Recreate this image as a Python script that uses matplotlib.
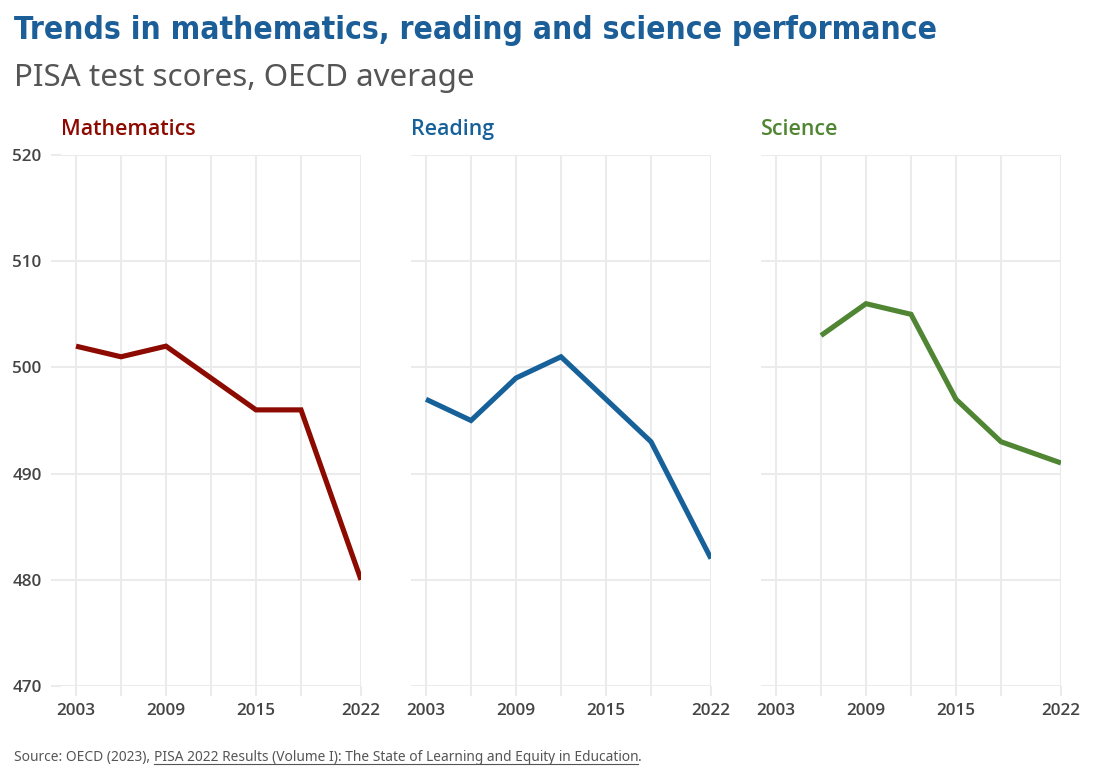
import matplotlib.pyplot as plt
from matplotlib.lines import Line2D
import numpy as np

# PISA OECD averages
years = [2003, 2006, 2009, 2012, 2015, 2018, 2022]
math_scores = [502, 501, 502, 499, 496, 496, 480]
reading_scores = [497, 495, 499, 501, 497, 493, 482]
science_scores = [np.nan, 503, 506, 505, 497, 493, 491]

subjects = ['Mathematics', 'Reading', 'Science']
colors = ['#8c0a00', '#17619a', '#4f8533']
y_ticks = [470, 480, 490, 500, 510, 520]
x_labelled = [2003, 2009, 2015, 2022]

W, H = 1115, 770
grid_col = '#ebebeb'
plt.rcParams['font.family'] = ['Noto Sans', 'DejaVu Sans']
bold_fam = ['Open Sans', 'Noto Sans', 'DejaVu Sans']

fig = plt.figure(figsize=(W / 100, H / 100), dpi=100)


def px(x, y):
    return x / W, 1 - y / H


lefts = [61, 411, 761]
for i, (name, col, vals) in enumerate(zip(subjects, colors, [math_scores, reading_scores, science_scores])):
    ax = fig.add_axes([lefts[i] / W, 1 - 686 / H, 300 / W, (686 - 155) / H])
    ax.plot(years, vals, color=col, lw=3.7, solid_joinstyle='miter', solid_capstyle='butt', zorder=3)
    ax.set_xlim(2002, 2022)
    ax.set_ylim(470, 520)
    ax.set_xticks(years)
    ax.set_xticklabels([str(y) if y in x_labelled else '' for y in years])
    ax.set_yticks(y_ticks)
    ax.grid(True, color=grid_col, lw=1.5, zorder=0)
    for s in ax.spines.values():
        s.set_visible(False)
    ax.tick_params(axis='x', length=7, width=1.5, color=grid_col, pad=5,
                   labelsize=12.3, labelcolor='#444444')
    if i == 0:
        ax.tick_params(axis='y', length=7, width=1.5, color=grid_col, pad=7,
                       labelsize=12.3, labelcolor='#444444')
    else:
        ax.tick_params(axis='y', length=0, labelleft=False)
    for lab in ax.get_xticklabels() + ax.get_yticklabels():
        lab.set_family(bold_fam)
        lab.set_fontweight('semibold')
    fig.text(*px(lefts[i], 135), name, color=col, fontsize=15.4, family=bold_fam,
             fontweight='semibold', va='baseline')

# headings
title = fig.text(*px(14, 39), 'Trends in mathematics, reading and science performance',
                 family=['Liberation Sans Narrow', 'DejaVu Sans'], fontstretch='condensed',
                 fontweight='bold', fontsize=30, color='#1b5e98', va='baseline')
fig.canvas.draw()
# shrink to the width the title takes in the original
tw = title.get_window_extent().width
title.set_fontsize(30 * 921 / tw)

fig.text(*px(14, 86), 'PISA test scores, OECD average', fontsize=22.5, color='#555555', va='baseline')

# source line with underlined report title
src1 = fig.text(*px(14, 761), 'Source: OECD (2023), ', fontsize=9.9, color='#555555', va='baseline')
fig.canvas.draw()
bb = src1.get_window_extent()
src2 = fig.text(bb.x1 / W, 1 - 761 / H,
                'PISA 2022 Results (Volume I): The State of Learning and Equity in Education',
                fontsize=9.9, color='#555555', va='baseline')
fig.canvas.draw()
bb2 = src2.get_window_extent()
fig.text(bb2.x1 / W, 1 - 761 / H, '.', fontsize=9.9, color='#555555', va='baseline')
uy = 1 - 764 / H
fig.add_artist(Line2D([bb2.x0 / W, bb2.x1 / W], [uy, uy], color='#555555', lw=0.8))

fig.savefig('out.png', dpi=100)
